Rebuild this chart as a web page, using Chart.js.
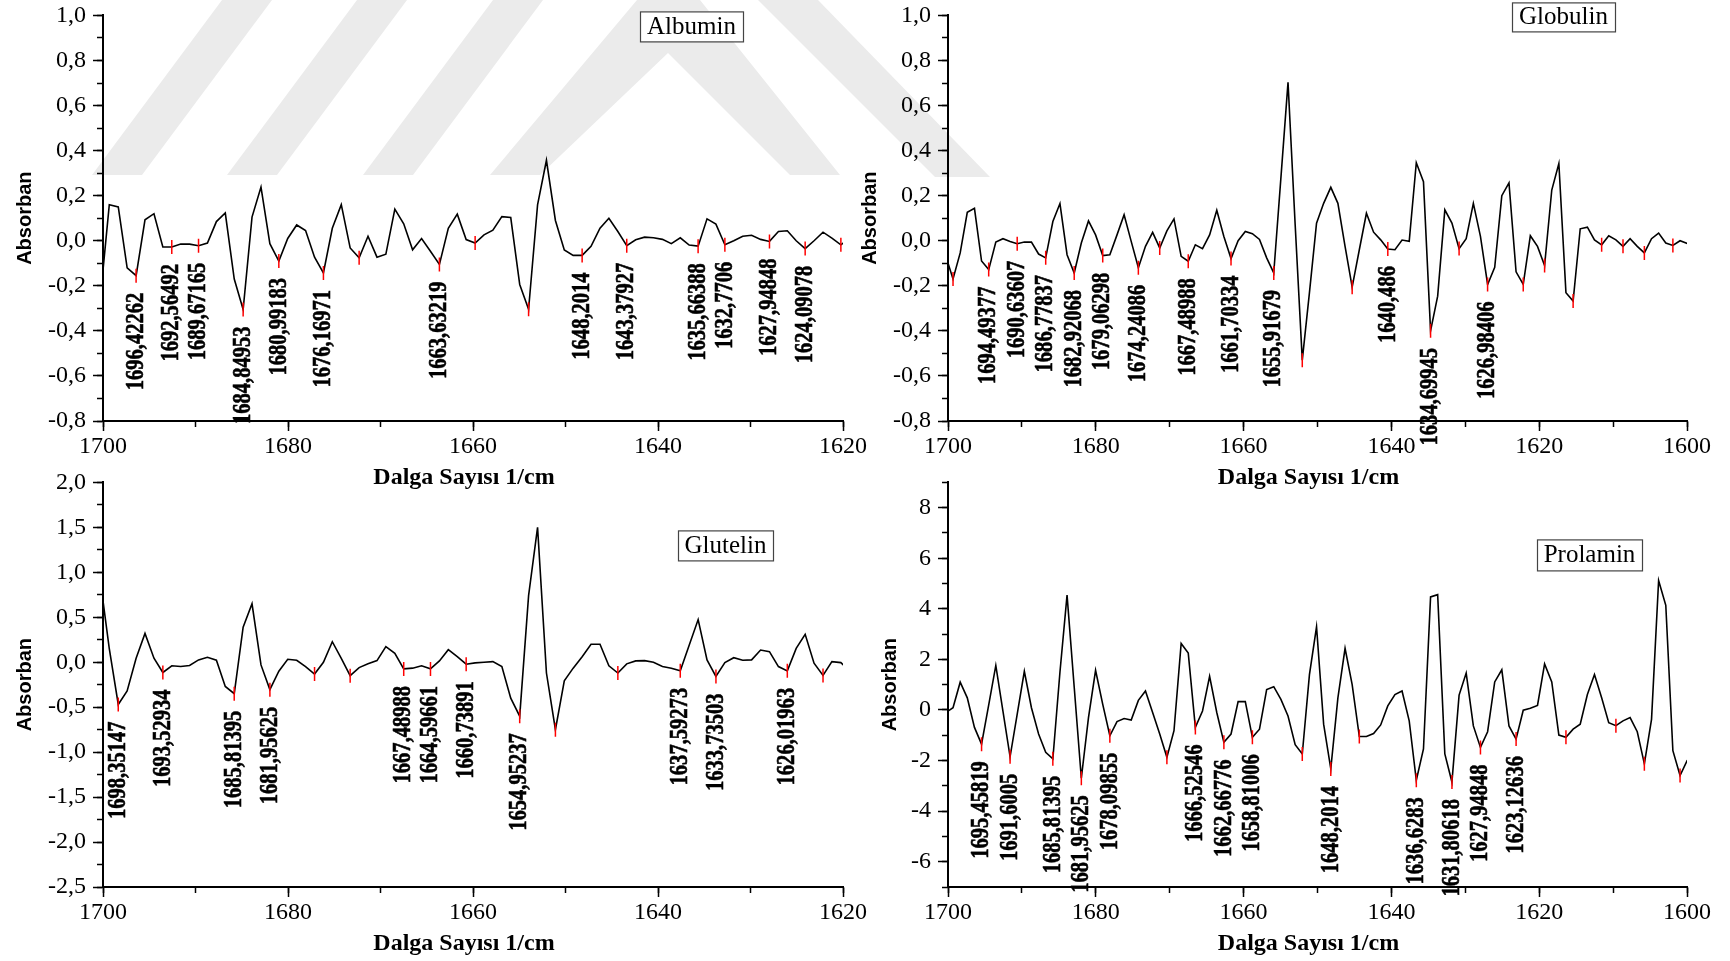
<!DOCTYPE html>
<html>
<head>
<meta charset="utf-8">
<script src="https://cdn.jsdelivr.net/npm/chart.js@4.4.1/dist/chart.umd.min.js"></script>
<style>
  html, body { margin: 0; padding: 0; background: #fff; }
  body { width: 1730px; height: 961px; position: relative; overflow: hidden; }
  canvas { position: absolute; }
  #wm { position: absolute; left: 0; top: 0; }
</style>
</head>
<body>
<svg id="wm" width="1730" height="961">
  <g fill="#ebebeb">
    <polygon points="92,175 142,175 272,0 222,0"/>
    <polygon points="227,175 277,175 407,0 357,0"/>
    <polygon points="363,175 413,175 543,0 493,0"/>
    <polygon points="490,175 637,0 700,0 840,175 790,175 668,53 540,175"/>
    <polygon points="758,0 818,0 990,177 935,177"/>
  </g>
</svg>
<canvas id="albumin" width="880" height="498" style="left:0;top:-6px"></canvas>
<canvas id="globulin" width="885" height="498" style="left:845px;top:-6px"></canvas>
<canvas id="glutelin" width="880" height="500" style="left:0;top:461px"></canvas>
<canvas id="prolamin" width="885" height="500" style="left:845px;top:461px"></canvas>
<script>
// wavenumber grid (1/cm), same for all four spectra
const wavenumbers = [
  1700.28, 1699.32, 1698.35, 1697.39, 1696.42, 1695.46, 1694.49, 1693.53, 1692.56, 1691.60,
  1690.64, 1689.67, 1688.71, 1687.74, 1686.78, 1685.81, 1684.85, 1683.89, 1682.92, 1681.96,
  1680.99, 1680.03, 1679.06, 1678.10, 1677.13, 1676.17, 1675.21, 1674.24, 1673.28, 1672.31,
  1671.35, 1670.38, 1669.42, 1668.45, 1667.49, 1666.53, 1665.56, 1664.60, 1663.63, 1662.67,
  1661.70, 1660.74, 1659.77, 1658.81, 1657.85, 1656.88, 1655.92, 1654.95, 1653.99, 1653.02,
  1652.06, 1651.09, 1650.13, 1649.17, 1648.20, 1647.24, 1646.27, 1645.31, 1644.34, 1643.38,
  1642.41, 1641.45, 1640.49, 1639.52, 1638.56, 1637.59, 1636.63, 1635.66, 1634.70, 1633.74,
  1632.77, 1631.81, 1630.84, 1629.88, 1628.91, 1627.95, 1626.98, 1626.02, 1625.06, 1624.09,
  1623.13, 1622.16, 1621.20, 1620.23, 1619.27, 1618.30, 1617.34, 1616.38, 1615.41, 1614.45,
  1613.48, 1612.52, 1611.55, 1610.59, 1609.62, 1608.66, 1607.70, 1606.73, 1605.77, 1604.80,
  1603.84, 1602.87, 1601.91, 1600.94, 1599.98, 1599.02
];

const albuminAbs = [
  -0.25, 0.16, 0.15, -0.12, -0.155, 0.093, 0.12, -0.028, -0.028, -0.015,
  -0.015, -0.022, -0.01, 0.085, 0.123, -0.17, -0.305, 0.105, 0.238, -0.013,
  -0.09, 0.01, 0.07, 0.045, -0.073, -0.143, 0.055, 0.16, -0.032, -0.076,
  0.02, -0.073, -0.06, 0.14, 0.075, -0.04, 0.01, -0.047, -0.105, 0.055,
  0.118, 0.005, -0.01, 0.026, 0.047, 0.107, 0.103, -0.194, -0.304, 0.159,
  0.357, 0.09, -0.041, -0.065, -0.065, -0.025, 0.056, 0.1, 0.041, -0.022,
  0.004, 0.016, 0.013, 0.006, -0.013, 0.013, -0.019, -0.024, 0.097, 0.074,
  -0.018, 0.0, 0.02, 0.024, 0.006, -0.003, 0.041, 0.044, 0.0, -0.035,
  0.0, 0.038, 0.012, -0.018, 0.01
];
const globulinAbs = [
  -0.07, -0.17, -0.054, 0.126, 0.144, -0.09, -0.128, -0.006, 0.009, -0.003,
  -0.013, -0.006, -0.006, -0.059, -0.076, 0.085, 0.165, -0.062, -0.143, -0.01,
  0.088, 0.026, -0.066, -0.062, 0.026, 0.115, -0.003, -0.12, -0.025, 0.037,
  -0.032, 0.044, 0.097, -0.069, -0.091, -0.018, -0.035, 0.026, 0.135, 0.019,
  -0.079, 0.0, 0.041, 0.031, 0.006, -0.076, -0.143, 0.28, 0.703, 0.07,
  -0.53, -0.23, 0.078, 0.166, 0.237, 0.166, -0.025, -0.206, -0.04, 0.122,
  0.038, 0.004, -0.037, -0.04, 0.003, -0.003, 0.346, 0.262, -0.4, -0.246,
  0.137, 0.078, -0.035, 0.009, 0.166, 0.019, -0.194, -0.118, 0.2, 0.257,
  -0.138, -0.194, 0.022, -0.025, -0.11, 0.225, 0.343, -0.231, -0.268, 0.053,
  0.06, 0.004, -0.018, 0.022, 0.004, -0.025, 0.009, -0.025, -0.054, 0.009,
  0.034, -0.01, -0.021, 0.0, -0.012, -0.01
];
const glutelinAbs = [
  0.9, 0.15, -0.47, -0.32, 0.044, 0.32, 0.044, -0.114, -0.04, -0.048,
  -0.037, 0.026, 0.055, 0.022, -0.27, -0.35, 0.39, 0.65, -0.03, -0.305,
  -0.1, 0.033, 0.022, -0.048, -0.132, 0.0, 0.228, 0.044, -0.15, -0.06,
  -0.018, 0.018, 0.173, 0.1, -0.074, -0.066, -0.04, -0.074, 0.015, 0.14,
  0.062, -0.022, -0.007, 0.0, 0.007, -0.048, -0.4, -0.6, 0.74, 1.5,
  -0.12, -0.75, -0.206, -0.066, 0.062, 0.2, 0.2, -0.04, -0.12, -0.018,
  0.015, 0.018, 0.0, -0.048, -0.066, -0.096, 0.19, 0.474, 0.026, -0.158,
  -0.004, 0.05, 0.022, 0.026, 0.136, 0.118, -0.048, -0.096, 0.154, 0.31,
  -0.011, -0.147, 0.007, -0.004, -0.1
];
const prolaminAbs = [
  -0.1, 0.09, 1.1, 0.48, -0.69, -1.35, 0.2, 1.76, -0.05, -1.85,
  -0.17, 1.53, 0.09, -0.95, -1.67, -1.93, 1.5, 4.54, 0.9, -2.7,
  -0.3, 1.57, 0.22, -1.02, -0.46, -0.34, -0.4, 0.38, 0.75, -0.1,
  -0.95, -1.87, -0.82, 2.63, 2.25, -0.69, -0.04, 1.33, -0.1, -1.28,
  -0.95, 0.33, 0.33, -1.08, -0.76, 0.81, 0.92, 0.42, -0.24, -1.37,
  -1.74, 1.4, 3.29, -0.56, -2.33, 0.48, 2.44, 1.0, -1.05, -1.05,
  -0.93, -0.59, 0.16, 0.61, 0.75, -0.43, -2.78, -1.54, 4.47, 4.56,
  -1.74, -2.85, 0.59, 1.46, -0.63, -1.48, -0.86, 1.11, 1.59, -0.63,
  -1.15, -0.01, 0.07, 0.18, 1.82, 1.11, -0.99, -1.08, -0.76, -0.56,
  0.61, 1.4, 0.48, -0.5, -0.62, -0.43, -0.3, -0.86, -2.13, -0.37,
  5.12, 4.14, -1.61, -2.59, -2.0, -1.8
];

// labelled peaks (text as printed) and unlabelled red marks
const albuminPeaks = ['1696,42262', '1692,56492', '1689,67165', '1684,84953', '1680,99183', '1676,16971',
  '1663,63219', '1648,2014', '1643,37927', '1635,66388', '1632,7706', '1627,94848', '1624,09078'];
const albuminMarks = [1672.31, 1659.77, 1653.99, 1620.23];
const globulinPeaks = ['1694,49377', '1690,63607', '1686,77837', '1682,92068', '1679,06298', '1674,24086',
  '1667,48988', '1661,70334', '1655,91679', '1640,486', '1634,69945', '1626,98406'];
const globulinMarks = [1699.32, 1671.35, 1652.06, 1645.31, 1630.84, 1622.16, 1619.27, 1615.41, 1611.55, 1608.66, 1605.77, 1601.91];
const glutelinPeaks = ['1698,35147', '1693,52934', '1685,81395', '1681,95625', '1667,48988', '1664,59661',
  '1660,73891', '1654,95237', '1637,59273', '1633,73503', '1626,01963'];
const glutelinMarks = [1677.13, 1673.28, 1651.09, 1644.34, 1622.16];
const prolaminPeaks = ['1695,45819', '1691,6005', '1685,81395', '1681,95625', '1678,09855', '1666,52546',
  '1662,66776', '1658,81006', '1648,2014', '1636,6283', '1631,80618', '1627,94848', '1623,12636'];
const prolaminMarks = [1670.38, 1652.06, 1644.34, 1616.38, 1609.62, 1605.77, 1600.94];

const SERIF = '"Liberation Serif", "Times New Roman", serif';
const SANS = '"Liberation Sans", Arial, sans-serif';

function valueAt(series, wn) {
  let best = 0;
  for (let i = 1; i < series.length; i++) {
    if (Math.abs(wavenumbers[i] - wn) < Math.abs(wavenumbers[best] - wn)) best = i;
  }
  return series[best];
}

// rotated peak labels and the framed panel name
const peakLabels = {
  id: 'peakLabels',
  afterDatasetsDraw(chart, args, opts) {
    const { ctx, chartArea } = chart;
    const xs = chart.scales.x, ys = chart.scales.y;
    ctx.save();
    ctx.font = 'bold 26px ' + SERIF;
    ctx.fillStyle = '#000';
    ctx.strokeStyle = '#000';
    ctx.lineWidth = 0.6;
    ctx.textAlign = 'right';
    ctx.textBaseline = 'middle';
    opts.items.forEach(p => {
      ctx.save();
      ctx.translate(xs.getPixelForValue(p.x), ys.getPixelForValue(p.y) + 17);
      ctx.rotate(-Math.PI / 2);
      ctx.scale(0.79, 1);
      ctx.fillText(p.text, 0, 0);
      ctx.strokeText(p.text, 0, 0);
      ctx.restore();
    });
    const b = opts.box;
    const bx = chartArea.left + b.dx, by = chartArea.top + b.dy;
    ctx.fillStyle = '#fff';
    ctx.fillRect(bx, by, b.w, b.h);
    ctx.strokeStyle = '#444';
    ctx.lineWidth = 1.2;
    ctx.strokeRect(bx + 0.5, by + 0.5, b.w, b.h);
    ctx.fillStyle = '#000';
    ctx.font = '25px ' + SERIF;
    ctx.textAlign = 'center';
    ctx.fillText(b.text, bx + b.w / 2, by + b.h / 2 + 1);
    ctx.restore();
  }
};

function isMultiple(v, step) {
  const r = v / step;
  return Math.abs(r - Math.round(r)) < 1e-6;
}

function buildPanel(id, series, peaks, marks, cfg) {
  const line = series.map((v, i) => ({ x: wavenumbers[i], y: v }));
  const peakPts = peaks.map(t => {
    const wn = parseFloat(t.replace(',', '.'));
    return { x: wn, y: valueAt(series, wn), text: t };
  });
  const markPts = peakPts.map(p => ({ x: p.x, y: p.y }))
    .concat(marks.map(wn => ({ x: wn, y: valueAt(series, wn) })));
  const fmt = cfg.decimals > 0
    ? v => v.toFixed(cfg.decimals).replace('.', ',')
    : v => String(Math.round(v));

  return new Chart(document.getElementById(id), {
    type: 'line',
    data: {
      datasets: [
        {
          data: markPts,
          xAxisID: 'x', yAxisID: 'y',
          showLine: false,
          pointStyle: 'line',
          rotation: 90,
          pointRadius: 7,
          pointBorderColor: '#ff0000',
          pointBorderWidth: 1.5,
          order: 0
        },
        {
          data: line,
          xAxisID: 'x', yAxisID: 'y',
          borderColor: '#000',
          borderWidth: 1.6,
          pointRadius: 0,
          tension: 0,
          fill: false,
          order: 1
        }
      ]
    },
    options: {
      responsive: false,
      animation: false,
      devicePixelRatio: 1,
      layout: { padding: { top: cfg.padTop, right: cfg.padRight, left: 0, bottom: 0 } },
      plugins: {
        legend: { display: false },
        tooltip: { enabled: false },
        peakLabels: { items: peakPts, box: cfg.box }
      },
      scales: {
        x: {
          type: 'linear', axis: 'x', position: 'bottom', weight: 1,
          reverse: true, min: cfg.xMin, max: 1700,
          border: { color: '#000', width: 2 },
          grid: { drawOnChartArea: false, tickLength: 10, tickWidth: 1.5, tickColor: '#000' },
          ticks: { stepSize: 20, autoSkip: false, maxRotation: 0, padding: 1, color: '#000',
                   font: { family: SERIF, size: 24 }, callback: v => String(v) },
          // trailing no-break spaces nudge the centred title a little to the left, as in the figure
          title: { display: true, text: 'Dalga Sayısı 1/cm' + '\u00a0'.repeat(3), color: '#000',
                   font: { family: SERIF, size: 24, weight: 'bold' },
                   padding: { top: 0, bottom: cfg.xTitlePad } },
          afterFit: s => { s.height = cfg.xAxisH; }
        },
        xm: {
          type: 'linear', axis: 'x', position: 'bottom', weight: 0,
          reverse: true, min: cfg.xMin, max: 1700,
          border: { display: false },
          grid: { drawOnChartArea: false, tickLength: 6, tickWidth: 1.5, tickColor: '#000' },
          ticks: { stepSize: 10, display: false },
          afterFit: s => { s.height = 0; }
        },
        y: {
          type: 'linear', axis: 'y', position: 'left', weight: 1,
          min: cfg.yMin, max: cfg.yMax,
          border: { color: '#000', width: 2 },
          grid: { drawOnChartArea: false, tickLength: 10, tickWidth: 1.5,
                  tickColor: c => isMultiple(c.tick.value, cfg.yStep) ? '#000' : 'rgba(0,0,0,0)' },
          ticks: { stepSize: cfg.yMinor, autoSkip: false, padding: 7, color: '#000',
                   font: { family: SERIF, size: 24 },
                   callback: v => isMultiple(v, cfg.yStep) ? fmt(v) : '' },
          title: { display: true, text: 'Absorban', color: '#000',
                   font: { family: SANS, size: 20, weight: 'bold' },
                   padding: { top: cfg.yTitlePad, bottom: 0 } },
          afterFit: s => { s.width = 103; }
        },
        ym: {
          type: 'linear', axis: 'y', position: 'left', weight: 0,
          min: cfg.yMin, max: cfg.yMax,
          border: { display: false },
          grid: { drawOnChartArea: false, tickLength: 6, tickWidth: 1.5, tickColor: '#000' },
          ticks: { stepSize: cfg.yMinor, display: false },
          afterFit: s => { s.width = 0; }
        }
      }
    },
    plugins: [peakLabels]
  });
}

buildPanel('albumin', albuminAbs, albuminPeaks, albuminMarks, {
  xMin: 1620, yMin: -0.8, yMax: 1.0, yStep: 0.2, yMinor: 0.1, decimals: 1,
  padTop: 19, padRight: 37, xAxisH: 71, xTitlePad: 0, yTitlePad: 13,
  box: { text: 'Albumin', dx: 537, dy: -4, w: 103, h: 30 }
});
buildPanel('globulin', globulinAbs, globulinPeaks, globulinMarks, {
  xMin: 1600, yMin: -0.8, yMax: 1.0, yStep: 0.2, yMinor: 0.1, decimals: 1,
  padTop: 19, padRight: 43, xAxisH: 71, xTitlePad: 0, yTitlePad: 13,
  box: { text: 'Globulin', dx: 564, dy: -13, w: 103, h: 29 }
});
buildPanel('glutelin', glutelinAbs, glutelinPeaks, glutelinMarks, {
  xMin: 1620, yMin: -2.5, yMax: 2.0, yStep: 0.5, yMinor: 0.25, decimals: 1,
  padTop: 18, padRight: 37, xAxisH: 74, xTitlePad: 3, yTitlePad: 13,
  box: { text: 'Glutelin', dx: 575, dy: 48, w: 95, h: 30 }
});
buildPanel('prolamin', prolaminAbs, prolaminPeaks, prolaminMarks, {
  xMin: 1600, yMin: -7, yMax: 9, yStep: 2, yMinor: 1, decimals: 0,
  padTop: 18, padRight: 43, xAxisH: 74, xTitlePad: 3, yTitlePad: 33,
  box: { text: 'Prolamin', dx: 589, dy: 57, w: 105, h: 31 }
});
</script>
</body>
</html>
